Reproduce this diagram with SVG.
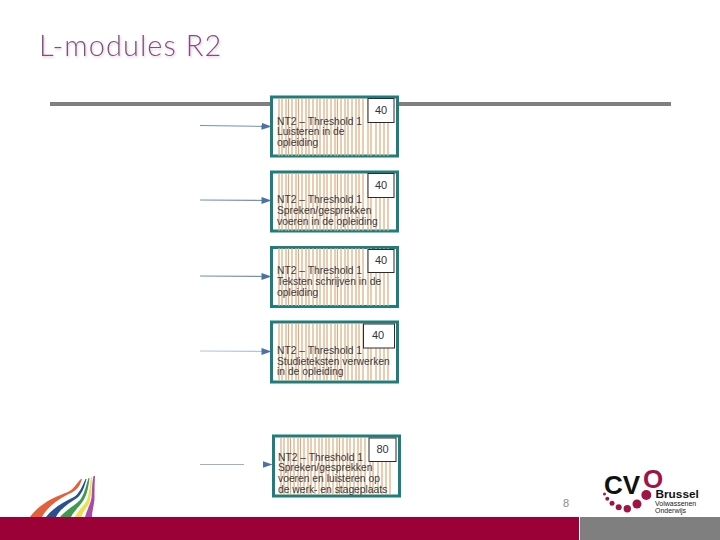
<svg xmlns="http://www.w3.org/2000/svg" width="720" height="540" viewBox="0 0 720 540">
<style>
.box{fill:#fff;stroke:#1c7f7d;stroke-width:3}
.stripes{fill:none;stroke:#dcab7e;stroke-width:1.2}
.num{fill:#fff;stroke:#2b2b2b;stroke-width:1}
.numt{font:11px "Liberation Sans",Arial,sans-serif;fill:#333;text-anchor:middle}
.lbl{font:10.300px "Liberation Sans",Arial,sans-serif;fill:#3a3a3a}
.arr{fill:none;stroke:#6f92b8;stroke-width:1.1}
</style>
<defs>
<marker id="ah" markerUnits="userSpaceOnUse" markerWidth="10" markerHeight="8" refX="9.500" refY="4" orient="auto"><path d="M0 0.500L10 4L0 7.500z" fill="#4a72aa"/></marker>
<path id="st" class="stripes" d="M8 0v58M11 0v58M15 0v58M17.500 0v58M21 0v58M25 0v58M27.500 0v58M31 0v58M35 0v58M38 0v58M42 0v58M46 0v58M49 0v58M53 0v58M56 0v58M60 0v58M64 0v58M66.500 0v58M70 0v58M74 0v58M77 0v58M81 0v58M85 0v58M88 0v58M92 0v58M97 0v58M100 0v58M105 0v58M109 0v58M113 0v58M117 0v58"/>
<filter id="sh" x="-5%" y="-20%" width="110%" height="150%"><feDropShadow dx="1" dy="1.500" stdDeviation="0.800" flood-color="#c4c4c4" flood-opacity="0.800"/></filter>
</defs>
<rect width="720" height="540" fill="#fff"/>
<text id="title" x="39" y="56" filter="url(#sh)" style="font:300 29px Lato,'Open Sans',sans-serif;fill:#8a4a85;letter-spacing:1.050px">L-modules R2</text>
<rect id="top-rule" x="50" y="102" width="621" height="4" fill="#7f7f7f"/>
<g id="connectors">
<path class="arr" d="M200 125.500L271 126.500" marker-end="url(#ah)"/>
<path class="arr" d="M200 200L271 200.500" marker-end="url(#ah)"/>
<path class="arr" d="M200 276L271 276.500" marker-end="url(#ah)"/>
<path class="arr" style="stroke:#b4c5d8" d="M200 351L271 351.500" marker-end="url(#ah)"/>
<path class="arr" style="stroke:#9fb0c2" d="M200 464.500H244"/>
<path class="arr" style="stroke:none" d="M262 464.500H272" marker-end="url(#ah)"/>
</g>
<g id="node1">
<rect class="box" x="271.500" y="97" width="126" height="59"/>
<use href="#st" x="271" y="98"/>
<rect class="num" x="368" y="98.500" width="26" height="24"/>
<text class="numt" x="381" y="114">40</text>
<text class="lbl" x="277" y="124.500">NT2 – Threshold 1</text>
<text class="lbl" x="277" y="135">Luisteren in de</text>
<text class="lbl" x="277" y="145.500">opleiding</text>
</g>
<g id="node2">
<rect class="box" x="271.500" y="172" width="126" height="59"/>
<use href="#st" x="271" y="173"/>
<rect class="num" x="368" y="173.500" width="26" height="24"/>
<text class="numt" x="381" y="189">40</text>
<text class="lbl" x="277" y="203">NT2 – Threshold 1</text>
<text class="lbl" x="277" y="214">Spreken/gesprekken</text>
<text class="lbl" x="277" y="225">voeren in de opleiding</text>
</g>
<g id="node3">
<rect class="box" x="271.500" y="247.500" width="126" height="59"/>
<use href="#st" x="271" y="248"/>
<rect class="num" x="368" y="249.500" width="26" height="23"/>
<text class="numt" x="381" y="264">40</text>
<text class="lbl" x="277" y="274">NT2 – Threshold 1</text>
<text class="lbl" x="277" y="285">Teksten schrijven in de</text>
<text class="lbl" x="277" y="295.500">opleiding</text>
</g>
<g id="node4">
<rect class="box" x="271.500" y="322" width="126" height="60"/>
<use href="#st" x="271" y="323"/>
<rect class="num" x="363.500" y="324" width="31" height="24"/>
<text class="numt" x="378" y="339">40</text>
<text class="lbl" x="277" y="354">NT2 – Threshold 1</text>
<text class="lbl" x="277" y="364.500">Studieteksten verwerken</text>
<text class="lbl" x="277" y="375">in de opleiding</text>
</g>
<g id="node5">
<rect class="box" x="273.500" y="436" width="126" height="60"/>
<use href="#st" x="273" y="437"/>
<rect class="num" x="369" y="438" width="27" height="23.500"/>
<text class="numt" x="382.500" y="453">80</text>
<text class="lbl" x="278" y="461">NT2 – Threshold 1</text>
<text class="lbl" x="278" y="471">Spreken/gesprekken</text>
<text class="lbl" x="278" y="482">voeren en luisteren op</text>
<text class="lbl" x="278" y="492.500">de werk- en stageplaats</text>
</g>
<g id="rainbow">
<path fill="#e2603c" d="M30 517C40 503 55 497 68 492C74 489 76 484 81 479L82 479C80 486 77 490 71 493C60 498 48 506 42 517z"/>
<path fill="#27508f" d="M46 517C54 507 64 502 74 497C79 494 82 487 85.500 479L86.500 479C84 488 82 494 77 498C69 503 60 509 56 517z"/>
<path fill="#3e9a50" d="M60 517C66 510 74 506 80 500C84 495 86 486 88.500 478L89.500 478C88.500 487 87 495 83 501C79 507 74 511 71 517z"/>
<path fill="#e8e050" d="M75 517C78 510 84 506 87 500C89 494 90 485 91 477L92 477C91.500 486 91.500 495 89.500 502C87.500 508 83 511 81.500 517z"/>
<path fill="#a84aa8" d="M85 517C87 510 90 505 91.500 498C92 490 92 483 93.500 476L95 476C94.500 484 94.500 492 94.500 499C94 506 92 511 92 517z"/>
</g>
<rect id="bar-left" x="0" y="517" width="579" height="23" fill="#9b0036"/>
<rect id="bar-right" x="580" y="517" width="140" height="23" fill="#7f7f7f"/>
<text id="page" x="563" y="507" style="font:11px 'Liberation Sans',Arial,sans-serif;fill:#8a8a8a">8</text>
<g id="logo">
<text x="604" y="494" style="font:bold 26px 'Liberation Sans',Arial,sans-serif;fill:#111">CV</text>
<text x="643" y="488" style="font:bold 26px 'Liberation Sans',Arial,sans-serif;fill:#a01445">O</text>
<g fill="#a01445">
<circle cx="604.500" cy="494" r="1.500"/><circle cx="607.300" cy="498.700" r="2"/><circle cx="612" cy="503.300" r="2.500"/><circle cx="618.700" cy="507.300" r="3"/><circle cx="627.300" cy="508.700" r="3.700"/><circle cx="637" cy="504" r="4.500"/><circle cx="646.300" cy="495" r="5"/>
</g>
<text x="655.500" y="498" style="font:bold 11.800px 'Liberation Sans',Arial,sans-serif;fill:#111">Brussel</text>
<text x="655" y="506" style="font:7px 'Liberation Sans',Arial,sans-serif;fill:#222">Volwassenen</text>
<text x="655" y="513" style="font:7px 'Liberation Sans',Arial,sans-serif;fill:#222">Onderwijs</text>
</g>
</svg>
